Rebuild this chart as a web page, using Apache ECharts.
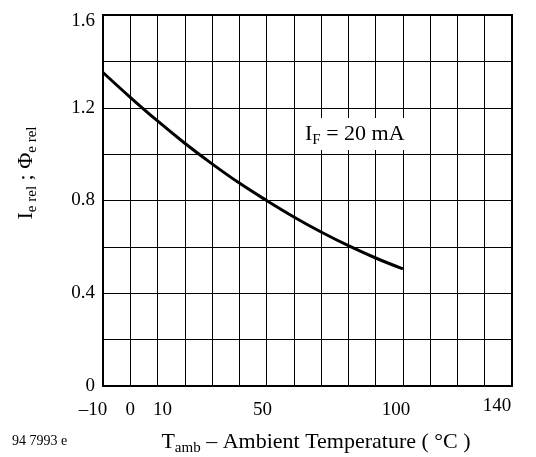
<!DOCTYPE html>
<html>
<head>
<meta charset="utf-8">
<script src="https://cdn.jsdelivr.net/npm/echarts@6/dist/echarts.min.js"></script>
<style>
  html, body { margin: 0; padding: 0; background: #fff; }
  #chart { width: 536px; height: 457px; }
</style>
</head>
<body>
<div id="chart"></div>
<script>
// values (IF = 20 mA)
const temps = [-10, 0, 10, 20, 30, 40, 50, 60, 70, 80, 90, 100];
const relOutput = [1.352, 1.245, 1.143, 1.047, 0.958, 0.875, 0.8, 0.729, 0.664, 0.605, 0.552, 0.505];

// only these ticks carry a label
const xTickLabels = [-10, 0, 10, 50, 100, 140];
const yTickLabels = [0, 0.4, 0.8, 1.2, 1.6];

const serif = '"Liberation Serif", "DejaVu Serif", serif';

const myChart = echarts.init(document.getElementById('chart'));

function inList(list, v) {
  return list.some(t => Math.abs(t - v) < 1e-6);
}

// big text with a subscript part
const subRich = {
  i: { fontFamily: serif, fontSize: 22, lineHeight: 28, fill: '#000' },
  s: { fontFamily: serif, fontSize: 15, lineHeight: 14, verticalAlign: 'bottom', fill: '#000' }
};

myChart.setOption({
  animation: false,
  grid: {
    left: 103, right: 24, top: 15, bottom: 71,
    outerBoundsMode: 'none', containLabel: false,
    show: true, borderColor: '#000', borderWidth: 2
  },
  xAxis: {
    type: 'value', min: -10, max: 140, interval: 10,
    axisLine: { show: true, onZero: false, lineStyle: { color: '#000', width: 2 } },
    axisTick: { show: false },
    splitLine: { show: true, lineStyle: { color: '#000', width: 1 } },
    axisLabel: {
      margin: 15, color: '#000', fontFamily: serif, fontSize: 19,
      showMinLabel: true, showMaxLabel: true, hideOverlap: false,
      formatter: v => {
        if (!inList(xTickLabels, v)) return '';
        const s = String(v).replace('-', '\u2013');
        if (v === -10) return '{l|' + s + '}';
        if (v === 10) return '{r|' + s + '}';
        if (v === 50) return '{m|' + s + '}';
        if (v === 100) return '{h|' + s + '}';
        if (v === 140) return '{e|' + s + '}';
        return s;
      },
      rich: {
        l: { fontFamily: serif, fontSize: 19, padding: [0, 20, 0, 0] },
        r: { fontFamily: serif, fontSize: 19, padding: [0, 0, 0, 10] },
        m: { fontFamily: serif, fontSize: 19, padding: [0, 8, 0, 0] },
        h: { fontFamily: serif, fontSize: 19, padding: [0, 14, 0, 0] },
        e: { fontFamily: serif, fontSize: 19, padding: [0, 30, 0, 0], lineHeight: 10 }
      }
    }
  },
  yAxis: {
    type: 'value', min: 0, max: 1.6, interval: 0.2,
    axisLine: { show: true, onZero: false, lineStyle: { color: '#000', width: 2 } },
    axisTick: { show: false },
    splitLine: { show: true, lineStyle: { color: '#000', width: 1 } },
    axisLabel: {
      margin: 8, color: '#000', fontFamily: serif, fontSize: 19,
      showMinLabel: true, showMaxLabel: true,
      formatter: v => {
        if (!inList(yTickLabels, v)) return '';
        const s = String(+v.toFixed(1));
        return Math.abs(v - 1.6) < 1e-6 ? '{t|' + s + '}' : s;
      },
      rich: {
        t: { fontFamily: serif, fontSize: 19, padding: [12, 0, 0, 0] }
      }
    }
  },
  series: [
    {
      type: 'line',
      data: temps.map((t, i) => [t, relOutput[i]]),
      smooth: 0.4,
      showSymbol: false,
      lineStyle: { color: '#000', width: 3 },
      z: 3
    }
  ],
  graphic: [
    {
      type: 'text', left: 295, top: 118, z: 10,
      style: {
        text: '{i|I}{s|F}{i| = 20 mA}',
        backgroundColor: '#fff', padding: [2, 6, 2, 10],
        rich: subRich
      }
    },
    {
      type: 'text', x: 26, y: 173, rotation: Math.PI / 2,
      style: {
        text: '{i|I}{s|e rel}{i| ; \u03a6}{s|e rel}',
        align: 'center', verticalAlign: 'middle',
        rich: subRich
      }
    },
    {
      type: 'text', x: 316, y: 442,
      style: {
        text: '{i|T}{s|amb}{i| \u2013 Ambient Temperature ( \u00b0C )}',
        align: 'center', verticalAlign: 'middle',
        rich: subRich
      }
    },
    {
      type: 'text', x: 12, y: 441,
      style: {
        text: '94 7993 e', fontFamily: serif, fontSize: 14, fill: '#000',
        verticalAlign: 'middle'
      }
    }
  ]
});
</script>
</body>
</html>
